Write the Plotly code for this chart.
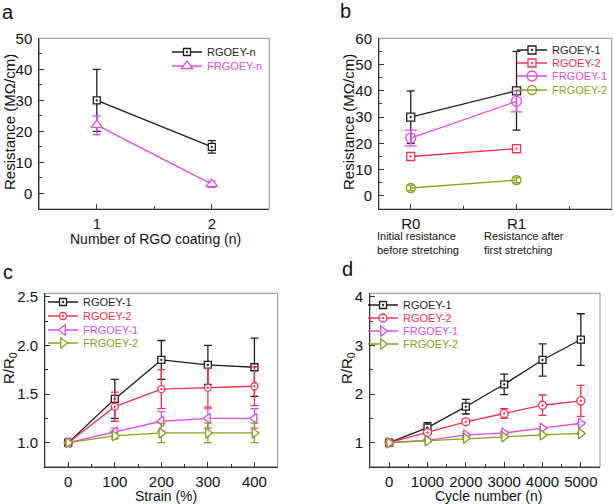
import plotly.graph_objects as go

W, H = 614, 504
FONT = "Liberation Sans, Arial, sans-serif"

# ---------------- data ----------------
# panel a
a_coating = [1, 2]
a_rgoey_n = [30, 15]
a_rgoey_n_err = [10, 2]
a_frgoey_n = [22, 3]
a_frgoey_n_err = [3, 1]

# panel b
b_pos = [1, 2]
b_ticks = ["R0", "R1"]
b_sub = ["Initial resistance<br>before stretching", "Resistance after<br>first stretching"]
b_rgoey1 = [30, 40]
b_rgoey1_err = [10, 15]
b_rgoey2 = [15, 18]
b_rgoey2_err = [1.5, 1.5]
b_frgoey1 = [22, 36]
b_frgoey1_err = [3, 4]
b_frgoey2 = [3, 6]
b_frgoey2_err = [1, 1]

# panel c
c_strain = [0, 100, 200, 300, 400]
c_rgoey1 = [1.0, 1.45, 1.85, 1.80, 1.775]
c_rgoey1_err = [0, 0.2, 0.2, 0.2, 0.3]
c_rgoey2 = [1.0, 1.37, 1.55, 1.565, 1.58]
c_rgoey2_err = [0, 0.15, 0.2, 0.2, 0.2]
c_frgoey1 = [1.0, 1.11, 1.22, 1.25, 1.25]
c_frgoey1_err = [0, 0.04, 0.1, 0.1, 0.1]
c_frgoey2 = [1.0, 1.07, 1.10, 1.10, 1.10]
c_frgoey2_err = [0, 0.03, 0.1, 0.1, 0.1]

# panel d
d_cycle = [0, 1000, 2000, 3000, 4000, 5000]
d_rgoey1 = [1.0, 1.31, 1.74, 2.2, 2.70, 3.12]
d_rgoey1_err = [0, 0.1, 0.15, 0.21, 0.33, 0.53]
d_rgoey2 = [1.0, 1.21, 1.43, 1.6, 1.77, 1.86]
d_rgoey2_err = [0, 0.05, 0.05, 0.1, 0.21, 0.32]
d_frgoey1 = [1.0, 1.05, 1.16, 1.2, 1.3, 1.4]
d_frgoey1_err = [0, 0.02, 0.03, 0.03, 0.03, 0.03]
d_frgoey2 = [1.0, 1.04, 1.09, 1.12, 1.16, 1.19]
d_frgoey2_err = [0, 0.02, 0.02, 0.02, 0.02, 0.02]

BLACK = "#1e1e1e"
RED = "#f7304e"
MAG = "#dd4ee6"
OLIVE = "#8c9e1c"

fig = go.Figure()

def fx(p):
    return p / W

def fy(p):
    return 1 - p / H

count = [0]

def add(xa, ya, x, y, err, name, color, symbol, size, lx, ly, cap=4):
    count[0] += 1
    lid = "legend" if count[0] == 1 else f"legend{count[0]}"
    fill = color if "open" in symbol else "white"
    fig.add_trace(go.Scatter(
        x=x, y=y, mode="lines+markers", name=name,
        line=dict(color=color, width=1.3),
        marker=dict(symbol=symbol, size=size, color=fill, line=dict(color=color, width=1.3)),
        error_y=dict(type="data", array=err, visible=True, color=color, thickness=1.3, width=cap),
        xaxis=xa, yaxis=ya, legend=lid, cliponaxis=False))
    fig.update_layout({lid: dict(x=fx(lx - 40), y=fy(ly), xanchor="left", yanchor="middle",
                                 bgcolor="rgba(0,0,0,0)", borderwidth=0,
                                 font=dict(size=11, family=FONT, color=color),
                                 itemwidth=30)})

# panel a
add("x", "y", a_coating, a_rgoey_n, a_rgoey_n_err, "RGOEY-n", BLACK, "square-dot", 7, 207, 52)
add("x", "y", a_coating, a_frgoey_n, a_frgoey_n_err, "FRGOEY-n", MAG, "triangle-up", 10, 207, 66)
# panel b
add("x2", "y2", b_pos, b_rgoey1, b_rgoey1_err, "RGOEY-1", BLACK, "square-dot", 8, 552, 50)
add("x2", "y2", b_pos, b_rgoey2, b_rgoey2_err, "RGOEY-2", RED, "square-dot", 8, 552, 63)
add("x2", "y2", b_pos, b_frgoey1, b_frgoey1_err, "FRGOEY-1", MAG, "circle-open", 10, 552, 76, cap=6)
add("x2", "y2", b_pos, b_frgoey2, b_frgoey2_err, "FRGOEY-2", OLIVE, "circle-open", 9, 552, 90)
# panel c
add("x3", "y3", c_strain, c_rgoey1, c_rgoey1_err, "RGOEY-1", BLACK, "square-dot", 7, 83, 302)
add("x3", "y3", c_strain, c_rgoey2, c_rgoey2_err, "RGOEY-2", RED, "circle-dot", 7, 83, 316)
add("x3", "y3", c_strain, c_frgoey1, c_frgoey1_err, "FRGOEY-1", MAG, "triangle-left", 9, 83, 330)
add("x3", "y3", c_strain, c_frgoey2, c_frgoey2_err, "FRGOEY-2", OLIVE, "triangle-right", 9, 83, 343)
# panel d
add("x4", "y4", d_cycle, d_rgoey1, d_rgoey1_err, "RGOEY-1", BLACK, "square-dot", 7, 403, 305)
add("x4", "y4", d_cycle, d_rgoey2, d_rgoey2_err, "RGOEY-2", RED, "circle-dot", 8, 403, 318)
add("x4", "y4", d_cycle, d_frgoey1, d_frgoey1_err, "FRGOEY-1", MAG, "triangle-right", 9, 403, 331)
add("x4", "y4", d_cycle, d_frgoey2, d_frgoey2_err, "FRGOEY-2", OLIVE, "triangle-right", 9, 403, 344)

AX = dict(showline=True, linecolor="#333", linewidth=1, mirror=False, ticks="inside", ticklen=5,
          tickcolor="#333", tickwidth=1, showgrid=False, zeroline=False,
          tickfont=dict(size=15, family=FONT, color="#111"))

def axx(dom, rng, **kw):
    d = dict(AX)
    d.update(domain=[fx(dom[0]), fx(dom[1])], range=rng, ticklabelstandoff=1)
    d.update(kw)
    return d

def axy(dom, rng, **kw):
    d = dict(AX)
    d.update(domain=[fy(dom[1]), fy(dom[0])], range=rng, ticklabelstandoff=3)
    d.update(kw)
    return d

TITLE = dict(size=15, family=FONT, color="#111")
XTITLE = dict(size=14, family=FONT, color="#111")
minor = lambda dt: dict(dtick=dt, ticks="inside", ticklen=3, tickcolor="#333")

fig.update_layout(
    xaxis=axx([39.3, 269.3], [0.5, 2.5], dtick=1, minor=minor(0.5), anchor="y"),
    yaxis=axy([38.3, 209], [-5, 50], dtick=10, minor=minor(5), anchor="x"),
    xaxis2=axx([379, 611.7], [0.7, 2.9], tickmode="array", tickvals=b_pos, ticktext=b_ticks,
               minor=dict(tickvals=[1.5, 2.5], ticks="inside", ticklen=3, tickcolor="#333"), anchor="y2"),
    yaxis2=axy([38.3, 209], [-5, 60], dtick=10, minor=minor(5), anchor="x2"),
    xaxis3=axx([45, 277.7], [-50, 450], dtick=100, minor=minor(50), anchor="y3"),
    yaxis3=axy([293.3, 466.7], [0.753, 2.535], tickvals=[1.0, 1.5, 2.0, 2.5], ticktext=["1.0", "1.5", "2.0", "2.5"],
               minor=dict(tickvals=[1.25, 1.75, 2.25], ticks="inside", ticklen=3, tickcolor="#333"), anchor="x3"),
    xaxis4=axx([370, 600], [-500, 5500], dtick=1000, minor=minor(500), anchor="y4"),
    yaxis4=axy([293.3, 466.7], [0.507, 4.07], dtick=1, minor=minor(0.5), anchor="x4"),
)

# frames (top/right lighter)
for xa, ya in [("x", "y"), ("x2", "y2"), ("x3", "y3"), ("x4", "y4")]:
    fig.add_shape(type="rect", xref=f"{xa} domain", yref=f"{ya} domain", x0=0, x1=1, y0=0, y1=1,
                  line=dict(color="#8a8a8a", width=1), layer="below")

ann = []
for txt, x, y in [("a", 8, 12), ("b", 345, 11), ("c", 8, 272), ("d", 347, 269)]:
    ann.append(dict(text=txt, x=fx(x), y=fy(y), xref="paper", yref="paper", showarrow=False,
                    xanchor="center", yanchor="middle", font=dict(size=20, family=FONT, color="#111")))
for txt, x, y in [("Resistance (MΩ/cm)", 9, 122), ("Resistance (MΩ/cm)", 348, 122),
                  ("R/R<sub>0</sub>", 9, 368), ("R/R<sub>0</sub>", 347, 368)]:
    ann.append(dict(text=txt, x=fx(x), y=fy(y), xref="paper", yref="paper", showarrow=False, textangle=-90,
                    xanchor="center", yanchor="middle", font=TITLE))
for txt, x, y in [("Number of RGO coating (n)", 155, 239), ("Strain (%)", 166, 496),
                  ("Cycle number (n)", 488, 496)]:
    ann.append(dict(text=txt, x=fx(x), y=fy(y), xref="paper", yref="paper", showarrow=False,
                    xanchor="center", yanchor="middle", font=XTITLE))
for xv, txt in zip(b_pos, b_sub):
    ann.append(dict(text=txt, x=xv, xref="x2", y=fy(243), yref="paper", xshift=7, showarrow=False,
                    xanchor="center", yanchor="middle", align="left", font=dict(size=11, family=FONT, color="#111")))

fig.update_layout(width=W, height=H, margin=dict(l=0, r=0, t=0, b=0, autoexpand=False), paper_bgcolor="white",
                  plot_bgcolor="white", annotations=ann, showlegend=True, font=dict(family=FONT))

fig.write_html("out.html", config={"displayModeBar": False})
with open("out.html", encoding="utf-8") as f:
    html = f.read()
html = html.replace("<head>", "<head><style>html,body{margin:0;padding:0;overflow:hidden;}</style>", 1)
with open("out.html", "w", encoding="utf-8") as f:
    f.write(html)
